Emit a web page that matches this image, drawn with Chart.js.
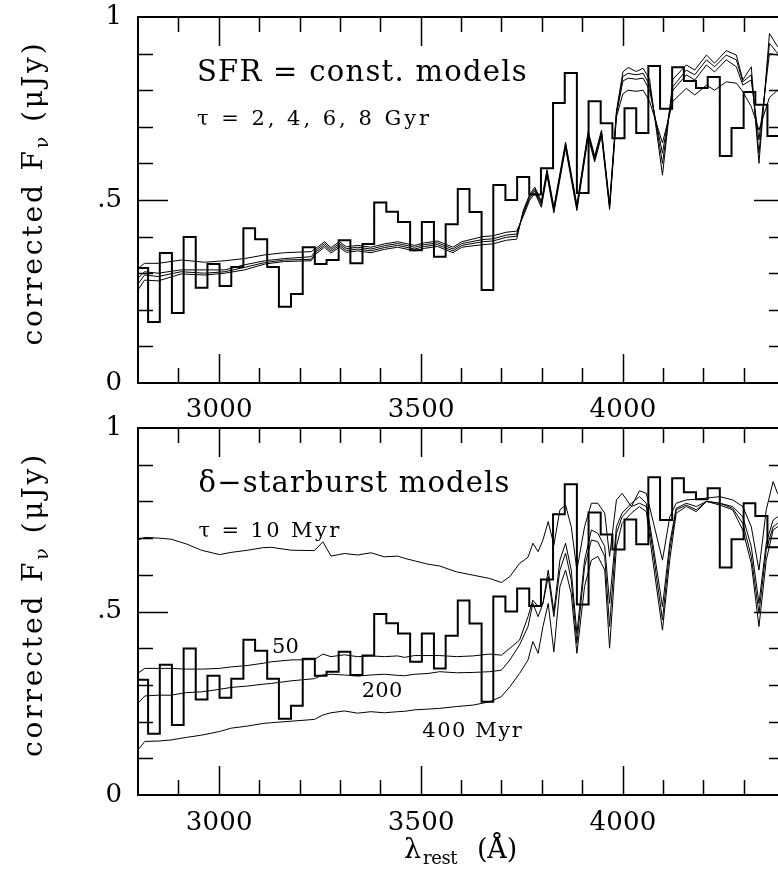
<!DOCTYPE html>
<html>
<head>
<meta charset="utf-8">
<script src="https://cdn.jsdelivr.net/npm/chart.js@4/dist/chart.umd.min.js"></script>
<style>
  html, body { margin: 0; padding: 0; background: #fff; overflow: hidden; width: 778px; height: 872px; }
  canvas { position: absolute; left: 0; }
  #topChart { top: 0; }
  #botChart { top: 395px; }
</style>
</head>
<body>
<canvas id="topChart" width="800" height="425"></canvas>
<canvas id="botChart" width="800" height="477"></canvas>
<script>
// observed spectrum, binned (left edges + last right edge)
const binEdges = [2800, 2825, 2854, 2884, 2913, 2943, 2972, 3002, 3031, 3061, 3090, 3120, 3149, 3179,
  3208, 3238, 3267, 3297, 3326, 3356, 3385, 3415, 3444, 3474, 3503, 3533, 3562, 3592, 3621, 3651,
  3680, 3710, 3739, 3769, 3798, 3828, 3857, 3887, 3916, 3946, 3975, 4005, 4034, 4064, 4093, 4123,
  4152, 4182, 4211, 4241, 4270, 4300, 4329, 4359, 4388, 4400];
const obsFlux = [0.314, 0.167, 0.355, 0.191, 0.399, 0.260, 0.325, 0.265, 0.317, 0.423, 0.393, 0.317,
  0.208, 0.243, 0.371, 0.325, 0.336, 0.390, 0.327, 0.380, 0.493, 0.468, 0.440, 0.363, 0.440, 0.345,
  0.434, 0.530, 0.467, 0.254, 0.541, 0.500, 0.563, 0.515, 0.587, 0.765, 0.847, 0.519, 0.770, 0.710,
  0.669, 0.751, 0.683, 0.866, 0.749, 0.863, 0.825, 0.806, 0.836, 0.620, 0.697, 0.795, 0.760, 0.675,
  0.680];

// SFR = const. models
const topWave = [2800, 2816, 2850, 2907, 2965, 3015, 3064, 3114, 3163, 3229,
  3241, 3262, 3278, 3299, 3316, 3344, 3377, 3410, 3443, 3485, 3510, 3542, 3580, 3602, 3654, 3679, 3712, 3738,
  3754, 3770, 3783, 3799, 3813, 3830, 3859, 3887, 3915, 3931, 3948, 3968, 3985,
  4001, 4014, 4034, 4051, 4067, 4099, 4125, 4158, 4179, 4208, 4228, 4257, 4282, 4298, 4319, 4338, 4364, 4384, 4400];
const sfrTau2 = [0.313, 0.327, 0.327, 0.336, 0.330, 0.334, 0.340, 0.350, 0.356, 0.359,
  0.368, 0.386, 0.370, 0.386, 0.372, 0.376, 0.371, 0.380, 0.386, 0.376, 0.383, 0.388, 0.371, 0.386, 0.400, 0.402, 0.412, 0.415,
  0.455, 0.499, 0.519, 0.480, 0.567, 0.465, 0.642, 0.471, 0.672, 0.604, 0.675, 0.474, 0.727,
  0.790, 0.800, 0.797, 0.800, 0.770, 0.656, 0.770, 0.805, 0.787, 0.814, 0.800, 0.823, 0.819, 0.796, 0.755, 0.691, 0.780, 0.800, 0.790];
const sfrTau4 = [0.286, 0.304, 0.300, 0.309, 0.309, 0.309, 0.323, 0.334, 0.340, 0.345,
  0.363, 0.381, 0.365, 0.381, 0.367, 0.371, 0.366, 0.375, 0.381, 0.371, 0.378, 0.383, 0.366, 0.381, 0.392, 0.394, 0.404, 0.407,
  0.461, 0.505, 0.525, 0.486, 0.573, 0.471, 0.648, 0.477, 0.678, 0.610, 0.681, 0.480, 0.733,
  0.825, 0.833, 0.830, 0.833, 0.800, 0.628, 0.800, 0.842, 0.828, 0.869, 0.850, 0.883, 0.864, 0.814, 0.828, 0.664, 0.900, 0.896, 0.900];
const sfrTau6 = [0.270, 0.295, 0.291, 0.304, 0.300, 0.304, 0.316, 0.329, 0.336, 0.338,
  0.358, 0.376, 0.360, 0.376, 0.362, 0.366, 0.361, 0.370, 0.376, 0.366, 0.373, 0.378, 0.361, 0.376, 0.386, 0.388, 0.398, 0.401,
  0.466, 0.510, 0.530, 0.491, 0.578, 0.476, 0.653, 0.482, 0.683, 0.615, 0.686, 0.485, 0.738,
  0.838, 0.846, 0.842, 0.846, 0.815, 0.600, 0.810, 0.855, 0.842, 0.883, 0.864, 0.896, 0.883, 0.823, 0.842, 0.628, 0.928, 0.901, 0.910];
const sfrTau8 = [0.254, 0.281, 0.279, 0.298, 0.295, 0.300, 0.309, 0.325, 0.332, 0.334,
  0.353, 0.371, 0.355, 0.371, 0.357, 0.361, 0.356, 0.365, 0.371, 0.361, 0.368, 0.373, 0.356, 0.371, 0.378, 0.380, 0.390, 0.393,
  0.471, 0.515, 0.535, 0.496, 0.583, 0.481, 0.658, 0.487, 0.688, 0.620, 0.691, 0.490, 0.743,
  0.850, 0.862, 0.851, 0.860, 0.830, 0.568, 0.830, 0.869, 0.855, 0.896, 0.874, 0.908, 0.896, 0.828, 0.864, 0.600, 0.955, 0.919, 0.930];

// delta-starburst models
const burstWave = [2800, 2817, 2850, 2882, 2920, 2957, 3002, 3030, 3072, 3110, 3130, 3179, 3237, 3258, 3278,
  3311, 3344, 3377, 3410, 3443, 3460, 3485, 3518, 3547, 3589, 3630, 3671, 3700, 3721, 3745, 3766,
  3778, 3791, 3803, 3816, 3830, 3845, 3859, 3873, 3887, 3906, 3923, 3939, 3956, 3968, 3985, 3999,
  4022, 4042, 4059, 4075, 4099, 4117, 4133, 4158, 4183, 4208, 4241, 4273, 4298, 4319, 4338, 4356,
  4373, 4384, 4400];
const burst10 = [0.695, 0.702, 0.700, 0.697, 0.684, 0.667, 0.655, 0.661, 0.667, 0.674, 0.675, 0.667, 0.666, 0.690, 0.651,
  0.658, 0.654, 0.660, 0.649, 0.651, 0.645, 0.638, 0.629, 0.624, 0.608, 0.599, 0.590, 0.579, 0.595, 0.631, 0.648,
  0.686, 0.663, 0.695, 0.745, 0.681, 0.777, 0.790, 0.731, 0.613, 0.731, 0.795, 0.795, 0.768, 0.650, 0.804, 0.822,
  0.786, 0.829, 0.822, 0.749, 0.640, 0.758, 0.795, 0.804, 0.806, 0.809, 0.813, 0.804, 0.786, 0.731, 0.613, 0.777,
  0.854, 0.822, 0.810];
const burst50 = [0.332, 0.345, 0.345, 0.345, 0.343, 0.343, 0.345, 0.349, 0.353, 0.359, 0.363, 0.368, 0.369, 0.384, 0.377,
  0.382, 0.377, 0.379, 0.377, 0.379, 0.375, 0.380, 0.380, 0.380, 0.377, 0.379, 0.384, 0.381, 0.400, 0.422, 0.486,
  0.531, 0.513, 0.522, 0.613, 0.500, 0.640, 0.686, 0.613, 0.440, 0.640, 0.722, 0.713, 0.677, 0.522, 0.731, 0.768,
  0.795, 0.813, 0.795, 0.686, 0.513, 0.686, 0.781, 0.795, 0.786, 0.800, 0.795, 0.786, 0.758, 0.677, 0.522, 0.686,
  0.749, 0.758, 0.763];
const burst200 = [0.250, 0.270, 0.272, 0.272, 0.279, 0.281, 0.288, 0.293, 0.297, 0.302, 0.304, 0.311, 0.317, 0.327, 0.329,
  0.327, 0.324, 0.327, 0.329, 0.326, 0.325, 0.329, 0.331, 0.336, 0.333, 0.334, 0.336, 0.340, 0.368, 0.409, 0.459,
  0.522, 0.486, 0.522, 0.595, 0.486, 0.613, 0.659, 0.586, 0.413, 0.622, 0.695, 0.690, 0.650, 0.459, 0.713, 0.758,
  0.786, 0.795, 0.786, 0.668, 0.477, 0.668, 0.777, 0.790, 0.777, 0.800, 0.795, 0.781, 0.740, 0.650, 0.495, 0.668,
  0.731, 0.740, 0.745];
const burst400 = [0.123, 0.146, 0.147, 0.150, 0.157, 0.163, 0.173, 0.182, 0.188, 0.195, 0.197, 0.201, 0.206, 0.218, 0.224,
  0.229, 0.223, 0.227, 0.224, 0.227, 0.228, 0.232, 0.234, 0.236, 0.241, 0.245, 0.254, 0.268, 0.295, 0.331, 0.368,
  0.418, 0.386, 0.459, 0.522, 0.390, 0.568, 0.613, 0.549, 0.386, 0.568, 0.640, 0.650, 0.613, 0.400, 0.677, 0.740,
  0.768, 0.786, 0.772, 0.640, 0.449, 0.640, 0.768, 0.786, 0.772, 0.800, 0.790, 0.777, 0.722, 0.631, 0.459, 0.640,
  0.722, 0.731, 0.736];

// axes
const xTickValues = [2900, 3000, 3100, 3200, 3300, 3400, 3500, 3600, 3700, 3800, 3900, 4000, 4100, 4200, 4300];
const xLabelValues = [3000, 3500, 4000];
const yTickValues = [0.1, 0.2, 0.3, 0.4, 0.5, 0.6, 0.7, 0.8, 0.9];
const yLabelValues = [0, 0.5, 1];
const yLabelText = ['0', '.5', '1'];

const FONT = '"DejaVu Serif", serif';

function pairs(xs, ys) {
  return xs.map((x, i) => ({ x: x, y: ys[i] }));
}

function histPoints() {
  const pts = obsFlux.map((v, i) => ({ x: binEdges[i], y: v }));
  pts.push({ x: binEdges[binEdges.length - 1], y: obsFlux[obsFlux.length - 1] });
  return pts;
}

function modelSet(xs, ys) {
  return { data: pairs(xs, ys), borderColor: '#000', borderWidth: 1, pointRadius: 0, tension: 0, fill: false };
}

// draw text stretched (via letter spacing) to a target width, left aligned
function fitText(ctx, text, x, y, size, width) {
  ctx.font = size + 'px ' + FONT;
  ctx.letterSpacing = '0px';
  const w = ctx.measureText(text).width;
  if (width && 'letterSpacing' in ctx) {
    ctx.letterSpacing = ((width - w) / text.length).toFixed(2) + 'px';
  }
  ctx.textAlign = 'left';
  ctx.fillText(text, x, y);
  ctx.letterSpacing = '0px';
}

// y title with subscript nu, drawn rotated
function drawYTitle(ctx, cx, cy) {
  const parts = [
    { t: 'corrected F', s: 28, dy: 0 },
    { t: 'ν', s: 19, dy: 8 },
    { t: ' (μJy)', s: 28, dy: 0 }
  ];
  const target = 305;
  ctx.save();
  ctx.translate(cx, cy);
  ctx.rotate(-Math.PI / 2);
  let total = 0, n = 0;
  parts.forEach(p => { ctx.font = p.s + 'px ' + FONT; total += ctx.measureText(p.t).width; n += p.t.length; });
  const ls = 'letterSpacing' in ctx ? Math.max(0, (target - total) / n) : 0;
  let x = -(total + ls * n) / 2;
  ctx.textBaseline = 'middle';
  ctx.textAlign = 'left';
  parts.forEach(p => {
    ctx.font = p.s + 'px ' + FONT;
    ctx.letterSpacing = '0px';
    const w = ctx.measureText(p.t).width;
    if (ls) ctx.letterSpacing = ls.toFixed(2) + 'px';
    ctx.fillText(p.t, x, p.dy);
    x += w + ls * p.t.length;
  });
  ctx.letterSpacing = '0px';
  ctx.restore();
}

function drawXTitle(ctx, y) {
  ctx.save();
  ctx.textBaseline = 'middle';
  fitText(ctx, 'λ', 404, y, 27);
  fitText(ctx, 'rest', 423, y + 8, 18, 34);
  fitText(ctx, '(Å)', 477, y, 27, 40);
  ctx.restore();
}

function framePlugin(cfg) {
  return {
    id: 'frame',
    afterDraw(chart) {
      const ctx = chart.ctx;
      const a = chart.chartArea;
      const xs = chart.scales.x, ys = chart.scales.y;
      ctx.save();
      ctx.strokeStyle = '#000';
      ctx.fillStyle = '#000';
      ctx.lineWidth = 2;
      ctx.strokeRect(a.left, a.top, a.right - a.left, a.bottom - a.top);

      // inward ticks on all four sides
      ctx.lineWidth = 1.5;
      ctx.beginPath();
      xTickValues.forEach(v => {
        const px = Math.round(xs.getPixelForValue(v)) + 0.5;
        const len = xLabelValues.includes(v) ? 29 : 15;
        ctx.moveTo(px, a.bottom); ctx.lineTo(px, a.bottom - len);
        ctx.moveTo(px, a.top); ctx.lineTo(px, a.top + len);
      });
      yTickValues.forEach(v => {
        const py = Math.round(ys.getPixelForValue(v)) + 0.5;
        const len = v === 0.5 ? 30 : 15;
        ctx.moveTo(a.left, py); ctx.lineTo(a.left + len, py);
        ctx.moveTo(a.right, py); ctx.lineTo(a.right - len, py);
      });
      ctx.stroke();

      // tick labels
      ctx.textBaseline = 'middle';
      xLabelValues.forEach(v => {
        fitText(ctx, String(v), xs.getPixelForValue(v) - 33, a.bottom + cfg.xLabelGap, 26, 67);
      });
      ctx.font = '26px ' + FONT;
      ctx.textAlign = 'right';
      yLabelValues.forEach((v, i) => {
        ctx.fillText(yLabelText[i], a.left - 16, ys.getPixelForValue(v));
      });

      // annotations
      cfg.notes.forEach(n => {
        fitText(ctx, n.text, xs.getPixelForValue(n.x), ys.getPixelForValue(n.y), n.size, n.width);
      });

      drawYTitle(ctx, 35, (a.top + a.bottom) / 2 - 7);
      if (cfg.xTitle) drawXTitle(ctx, a.bottom + 56);
      ctx.restore();
    }
  };
}

function makeChart(id, models, pad, cfg) {
  const datasets = [{
    data: histPoints(), borderColor: '#000', borderWidth: 2, pointRadius: 0, stepped: true, fill: false
  }].concat(models);
  return new Chart(document.getElementById(id).getContext('2d'), {
    type: 'line',
    data: { datasets: datasets },
    options: {
      responsive: false,
      animation: false,
      devicePixelRatio: 1,
      parsing: false,
      layout: { padding: pad },
      plugins: { legend: { display: false }, tooltip: { enabled: false } },
      scales: {
        x: { type: 'linear', min: 2800, max: 4400, display: false },
        y: { type: 'linear', min: 0, max: 1, display: false }
      }
    },
    plugins: [framePlugin(cfg)]
  });
}

makeChart('topChart',
  [modelSet(topWave, sfrTau2), modelSet(topWave, sfrTau4), modelSet(topWave, sfrTau6), modelSet(topWave, sfrTau8)],
  { left: 138, right: 16, top: 17, bottom: 42 },
  {
    xLabelGap: 27,
    xTitle: false,
    notes: [
      { text: 'SFR = const. models', x: 2946, y: 0.847, size: 29, width: 331 },
      { text: 'τ = 2, 4, 6, 8 Gyr', x: 2946, y: 0.719, size: 21, width: 235 }
    ]
  });

makeChart('botChart',
  [modelSet(burstWave, burst10), modelSet(burstWave, burst50), modelSet(burstWave, burst200), modelSet(burstWave, burst400)],
  { left: 138, right: 16, top: 33, bottom: 77 },
  {
    xLabelGap: 28,
    xTitle: true,
    notes: [
      { text: 'δ−starburst models', x: 2950, y: 0.847, size: 29, width: 312 },
      { text: 'τ = 10 Myr', x: 2950, y: 0.719, size: 21, width: 143 },
      { text: '50', x: 3132, y: 0.403, size: 21, width: 27 },
      { text: '200', x: 3354, y: 0.283, size: 21, width: 41 },
      { text: '400 Myr', x: 3504, y: 0.172, size: 21, width: 101 }
    ]
  });
</script>
</body>
</html>
